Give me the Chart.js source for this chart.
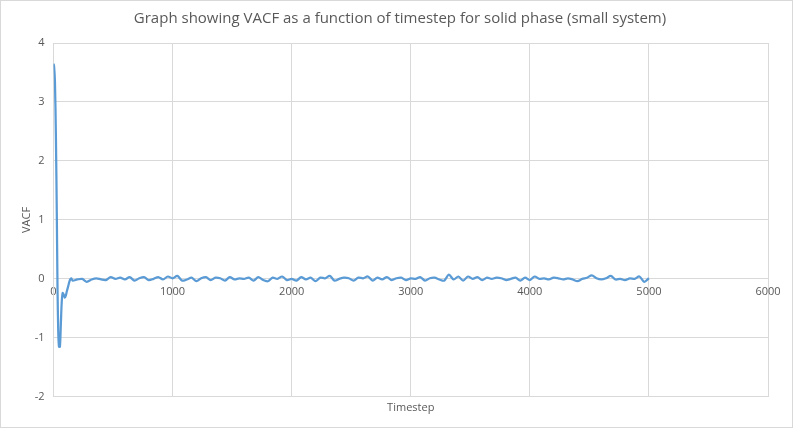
<!DOCTYPE html>
<html>
<head>
<meta charset="utf-8">
<script src="https://cdn.jsdelivr.net/npm/chart.js@4"></script>
<style>
  html, body { margin: 0; padding: 0; background: #fff; }
  #wrap { position: relative; width: 800px; height: 433px; }
</style>
</head>
<body>
<div id="wrap"><canvas id="chart" width="800" height="433"></canvas></div>
<script>
// --- DATA ---
const titleText = 'Graph showing VACF as a function of timestep for solid phase (small system)';
const xTitle = 'Timestep';
const yTitle = 'VACF';

// timesteps (hand-read)
const timesteps = [
    0, 5, 12, 20, 28, 34, 40, 46, 54, 62, 69, 77, 86, 96, 104, 111, 124, 138, 150,
    160, 200, 240, 280, 320, 360, 400, 440, 480, 520,
    560, 600, 640, 680, 720, 760, 800, 840, 880, 920,
    960, 1000, 1040, 1080, 1120, 1160, 1200, 1240, 1280, 1320,
    1360, 1400, 1440, 1480, 1520, 1560, 1600, 1640, 1680, 1720,
    1760, 1800, 1840, 1880, 1920, 1960, 2000, 2040, 2080, 2120,
    2160, 2200, 2240, 2280, 2320, 2360, 2400, 2440, 2480, 2520,
    2560, 2600, 2640, 2680, 2720, 2760, 2800, 2840, 2880, 2920,
    2960, 3000, 3040, 3080, 3120, 3160, 3200, 3240, 3280, 3320,
    3360, 3400, 3440, 3480, 3520, 3560, 3600, 3640, 3680, 3720,
    3760, 3800, 3840, 3880, 3920, 3960, 4000, 4040, 4080, 4120,
    4160, 4200, 4240, 4280, 4320, 4360, 4400, 4440, 4480, 4520,
    4560, 4600, 4640, 4680, 4720, 4760, 4800, 4840, 4880, 4920,
    4960, 5000
];

// VACF values, same order as timesteps
const vacf = [
    3.65, 3.6, 3.35, 2.45, 1.05, -0.2, -0.9, -1.15, -1.15, -0.75, -0.4, -0.24, -0.27, -0.32, -0.28, -0.22, -0.12, -0.02, 0.01,
    -0.03, -0.01, 0.00, -0.05, -0.01, 0.01, -0.01, -0.02, 0.03, 0.00,
    0.02, -0.01, 0.03, -0.03, 0.01, 0.03, -0.02, 0.00, 0.03, -0.01,
    0.04, 0.01, 0.05, -0.03, -0.01, 0.02, -0.04, 0.01, 0.03, -0.02,
    0.02, 0.01, -0.03, 0.03, -0.01, 0.01, 0.00, 0.02, -0.03, 0.03,
    -0.02, -0.04, 0.02, 0.00, 0.04, -0.02, 0.00, -0.03, 0.03, -0.01,
    0.02, -0.04, 0.02, 0.01, 0.05, -0.03, 0.00, 0.02, 0.01, -0.03,
    0.02, 0.01, 0.04, -0.03, 0.02, -0.01, 0.03, -0.02, 0.01, 0.02,
    -0.02, 0.01, 0.00, 0.03, -0.03, 0.01, 0.02, -0.01, -0.03, 0.07,
    -0.01, 0.04, -0.03, 0.04, 0.00, 0.03, -0.02, 0.02, 0.00, 0.02,
    0.01, -0.02, 0.00, 0.02, -0.03, 0.02, -0.02, 0.04, 0.00, 0.01,
    -0.01, 0.02, 0.01, -0.01, 0.01, -0.01, -0.04, 0.00, 0.02, 0.06,
    0.01, -0.01, 0.01, 0.05, -0.01, 0.00, -0.02, 0.01, 0.00, 0.04,
    -0.05, 0.01
];

const xMin = 0, xMax = 6000, xStep = 1000;
const yMin = -2, yMax = 4, yStep = 1;

const gridGrey = '#d9d9d9';
const textGrey = '#595959';
const FONT = "'Open Sans', sans-serif";

// outer frame like the Excel chart border
const framePlugin = {
    id: 'frame',
    beforeDraw(chart) {
        const c = chart.ctx;
        c.save();
        c.fillStyle = '#fff';
        c.fillRect(0, 0, chart.width, chart.height);
        c.strokeStyle = gridGrey;
        c.lineWidth = 1;
        c.strokeRect(0.5, 0.5, 792, 427);
        c.restore();
    }
};

const points = timesteps.map((t, i) => ({ x: t, y: vacf[i] }));

new Chart(document.getElementById('chart'), {
    type: 'line',
    data: {
        datasets: [{
            label: yTitle,
            data: points,
            borderColor: '#5b9bd5',
            borderWidth: 2.25,
            pointRadius: 0,
            tension: 0.3,
            fill: false
        }]
    },
    options: {
        responsive: false,
        animation: false,
        layout: { padding: 0 },
        plugins: {
            legend: { display: false },
            tooltip: { enabled: false },
            title: {
                display: true,
                text: titleText,
                color: textGrey,
                font: { family: FONT, size: 15, weight: 'normal' },
                padding: { top: 10, bottom: 15 }
            }
        },
        scales: {
            x: {
                type: 'linear',
                position: 'bottom',
                min: xMin, max: xMax,
                ticks: { display: false, stepSize: xStep },
                grid: { color: gridGrey, drawTicks: false },
                border: { color: gridGrey },
                title: {
                    display: true, text: xTitle, color: textGrey,
                    font: { family: FONT, size: 11 },
                    padding: { top: 4, bottom: 19 }
                }
            },
            xLabels: {
                type: 'linear',
                position: { y: 0 },
                min: xMin, max: xMax,
                ticks: {
                    stepSize: xStep, color: textGrey, padding: 6,
                    font: { family: FONT, size: 11 },
                    callback: (v) => String(v)
                },
                grid: { display: false, drawTicks: false },
                border: { color: gridGrey }
            },
            y: {
                min: yMin, max: yMax,
                ticks: {
                    stepSize: yStep, color: textGrey, padding: 9,
                    font: { family: FONT, size: 11 }
                },
                grid: { color: gridGrey, drawTicks: false },
                border: { color: gridGrey },
                title: {
                    display: true, text: yTitle, color: textGrey,
                    font: { family: FONT, size: 11 },
                    padding: { top: 20, bottom: 0 }
                },
                afterFit(scale) { scale.width = 53.5; }
            },
            // empty right-side spacer so the plot ends where the reference does
            ySpacer: {
                position: 'right',
                min: yMin, max: yMax,
                ticks: { display: false },
                grid: { display: false, drawTicks: false },
                border: { display: false },
                afterFit(scale) { scale.width = 32; }
            }
        }
    },
    plugins: [framePlugin]
});
</script>
</body>
</html>
